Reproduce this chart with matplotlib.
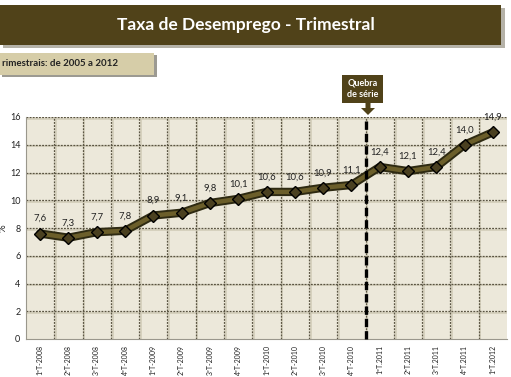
import matplotlib
matplotlib.use("Agg")
import matplotlib.pyplot as plt
from matplotlib.patches import Rectangle, FancyArrow
import numpy as np

plt.rcParams['font.family'] = ['Lato', 'DejaVu Sans']

categories = ["1ºT-2008", "2ºT-2008", "3ºT-2008", "4ºT-2008",
              "1ºT-2009", "2ºT-2009", "3ºT-2009", "4ºT-2009",
              "1ºT-2010", "2ºT-2010", "3ºT-2010", "4ºT-2010",
              "1ºT.2011", "2ºT.2011", "3ºT.2011", "4ºT.2011", "1ºT.2012"]
values = [7.6, 7.3, 7.7, 7.8, 8.9, 9.1, 9.8, 10.1, 10.6, 10.6, 10.9, 11.1,
          12.4, 12.1, 12.4, 14.0, 14.9]
yticks = [0, 2, 4, 6, 8, 10, 12, 14, 16]
break_after = 11  # series break between 4ºT-2010 and 1ºT.2011

W, H = 511, 377
fig = plt.figure(figsize=(W / 100, H / 100), dpi=100)
fig.patch.set_facecolor("white")

def fbox(x0, y0, x1, y1):
    return [x0 / W, 1 - y1 / H, (x1 - x0) / W, (y1 - y0) / H]

# Title band with shadow
fig.patches.append(Rectangle((3 / W, 1 - 48 / H), 502 / W, 40 / H, transform=fig.transFigure,
                             facecolor="#b5b2a8", edgecolor="none", zorder=0))
fig.patches.append(Rectangle((0, 1 - 45 / H), 501 / W, 40 / H, transform=fig.transFigure,
                             facecolor="#504219", edgecolor="none", zorder=1))
fig.text(246 / W, 1 - 25 / H, "Taxa de Desemprego - Trimestral", color="white",
         fontsize=12.5, fontweight="bold", ha="center", va="center", zorder=2)

# Subtitle box with shadow
fig.patches.append(Rectangle((2 / W, 1 - 77 / H), 155 / W, 22 / H, transform=fig.transFigure,
                             facecolor="#9c9a92", edgecolor="none", zorder=0))
fig.patches.append(Rectangle((0, 1 - 75 / H), 154 / W, 22 / H, transform=fig.transFigure,
                             facecolor="#d6cda8", edgecolor="none", zorder=1))
fig.text(2 / W, 1 - 64 / H, "rimestrais: de 2005 a 2012", color="#222222",
         fontsize=7, fontweight="bold", ha="left", va="center", zorder=2)

# Main axes
ax = fig.add_axes(fbox(26, 117, 507, 339))
ax.set_facecolor("#ece8da")
x = np.arange(len(categories))
ax.set_xlim(-0.5, len(categories) - 0.5)
ax.set_ylim(0, 16)

# Grid (dark dashed with light shadow)
for yv in yticks[1:]:
    ax.axhline(yv - 0.12, color="#d2cdb9", lw=1.2, zorder=1)
    ax.axhline(yv, color="#5a5442", lw=0.9, ls=(0, (1.5, 1)), zorder=2)
for xv in np.arange(0.5, len(categories) - 0.5, 1.0):
    ax.axvline(xv + 0.06, color="#d2cdb9", lw=1.2, zorder=1)
    ax.axvline(xv, color="#5a5442", lw=0.9, ls=(0, (1.5, 1)), zorder=2)

# Line
ax.plot(x, values, color="#2e2a12", lw=6.0, zorder=3, solid_capstyle="round")
ax.plot(x, values, color="#6b5e2a", lw=3.2, zorder=4, solid_capstyle="round")
ax.plot(x, values, ls="none", marker="D", ms=6, mfc="#4a4020", mec="black", mew=1.0, zorder=5)

for xi, v in zip(x, values):
    ax.text(xi, v + 0.75, f"{v:.1f}".replace(".", ","), ha="center", va="bottom",
            fontsize=6.8, color="#222222", zorder=6)

# Series break
ax.axvline(break_after + 0.5, color="black", lw=2.4, ls=(0, (2.5, 1.2)), zorder=6, clip_on=False)

# Annotation box with arrow
fig.patches.append(Rectangle((342 / W, 1 - 103 / H), 41 / W, 28 / H, transform=fig.transFigure,
                             facecolor="#504219", edgecolor="none", zorder=3))
fig.text(362.5 / W, 1 - 89 / H, "Quebra\nde série", color="white", fontsize=6.5,
         fontweight="bold", ha="center", va="center", linespacing=1.3, zorder=4)
fig.patches.append(FancyArrow(368 / W, 1 - 102 / H, 0, -13 / H, width=5 / W,
                              head_width=14 / W, head_length=7 / H, length_includes_head=True,
                              transform=fig.transFigure, facecolor="#504219",
                              edgecolor="none", zorder=3))

# Axes styling
ax.set_yticks(yticks)
ax.set_yticklabels([str(t) for t in yticks], fontsize=6.5, color="#222222")
ax.set_xticks(x)
ax.set_xticklabels(categories, rotation=90, fontsize=5, color="#222222")
ax.tick_params(axis="both", length=0, pad=4)
ax.tick_params(axis="x", pad=4)
for s in ["top", "right"]:
    ax.spines[s].set_visible(False)
ax.spines["left"].set_color("#9a978c")
ax.spines["bottom"].set_color("#9a978c")
ax.set_ylabel("%", fontsize=7, color="#222222")
ax.yaxis.set_label_coords(-0.038, 0.5)

fig.savefig("out.png", dpi=100)
